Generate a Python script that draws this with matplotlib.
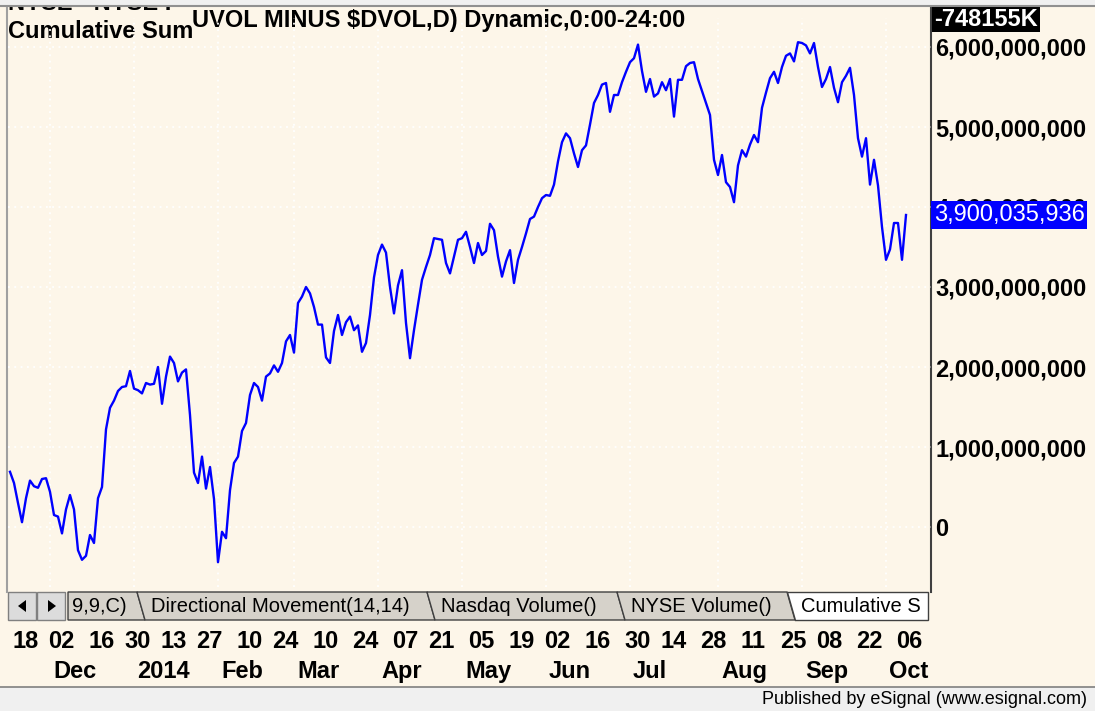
import numpy as np
import pandas as pd
import matplotlib
matplotlib.use("Agg")
import matplotlib.pyplot as plt
from matplotlib.patches import Rectangle, Polygon
from matplotlib.ticker import FuncFormatter

plt.rcParams['font.family'] = ['Liberation Sans', 'DejaVu Sans']

# cumulative sum of $UVOL - $DVOL (billions), one value per trading day
cum_sum_bn = [
    0.69, 0.55, 0.30, 0.06, 0.36, 0.58, 0.51, 0.49, 0.60, 0.61,
    0.44, 0.15, 0.13, -0.08, 0.22, 0.40, 0.22, -0.29, -0.41, -0.36,
    -0.10, -0.20, 0.36, 0.50, 1.22, 1.49, 1.58, 1.70, 1.75, 1.76,
    1.95, 1.73, 1.71, 1.67, 1.80, 1.78, 1.79, 2.00, 1.54, 1.88,
    2.13, 2.05, 1.82, 1.93, 1.97, 1.40, 0.68, 0.55, 0.88, 0.48,
    0.75, 0.35, -0.44, -0.06, -0.14, 0.46, 0.80, 0.88, 1.20, 1.30,
    1.65, 1.80, 1.75, 1.58, 1.88, 1.92, 2.02, 1.94, 2.05, 2.32,
    2.40, 2.18, 2.80, 2.88, 3.00, 2.92, 2.75, 2.53, 2.53, 2.12,
    2.05, 2.45, 2.65, 2.40, 2.56, 2.63, 2.46, 2.52, 2.19, 2.30,
    2.65, 3.12, 3.40, 3.53, 3.43, 3.00, 2.67, 3.02, 3.21, 2.55,
    2.11, 2.46, 2.78, 3.09, 3.25, 3.40, 3.61, 3.60, 3.59, 3.30,
    3.17, 3.38, 3.59, 3.61, 3.69, 3.50, 3.30, 3.55, 3.40, 3.45,
    3.79, 3.71, 3.38, 3.13, 3.32, 3.46, 3.05, 3.34, 3.50, 3.67,
    3.85, 3.88, 4.00, 4.11, 4.15, 4.14, 4.28, 4.57, 4.81, 4.92,
    4.86, 4.67, 4.50, 4.71, 4.77, 5.03, 5.30, 5.40, 5.53, 5.55,
    5.19, 5.40, 5.40, 5.56, 5.69, 5.81, 5.86, 6.03, 5.70, 5.44,
    5.60, 5.38, 5.42, 5.56, 5.46, 5.60, 5.13, 5.59, 5.59, 5.76,
    5.80, 5.81, 5.60, 5.45, 5.30, 5.15, 4.59, 4.40, 4.65, 4.31,
    4.25, 4.06, 4.52, 4.71, 4.63, 4.78, 4.90, 4.81, 5.24, 5.43,
    5.61, 5.69, 5.55, 5.75, 5.89, 5.92, 5.82, 6.06, 6.05, 6.02,
    5.92, 6.05, 5.75, 5.50, 5.60, 5.75, 5.49, 5.31, 5.56, 5.64,
    5.74, 5.40, 4.86, 4.63, 4.86, 4.28, 4.59, 4.27, 3.75, 3.34,
    3.47, 3.80, 3.80, 3.34, 3.900035936,
]

holidays = ["2013-11-28", "2013-12-25", "2014-01-01", "2014-01-20", "2014-02-17",
            "2014-04-18", "2014-05-26", "2014-07-04", "2014-09-01"]
y_ticks_bn = [0, 1, 2, 3, 4, 5, 6]
month_labels = ["Dec", "2014", "Feb", "Mar", "Apr", "May", "Jun", "Jul", "Aug", "Sep", "Oct"]
tab_names = ["9,9,C)", "Directional Movement(14,14)", "Nasdaq Volume()", "NYSE Volume()", "Cumulative S"]

days = pd.bdate_range("2013-11-15", "2014-10-08")
days = days[~days.isin(pd.to_datetime(holidays))]
tick_dates = pd.date_range("2013-11-18", "2014-10-06", freq="14D")
month_starts = [days[(days.year == d.year) & (days.month == d.month)][0]
                for d in pd.date_range("2013-12-01", "2014-10-01", freq="MS")]
tick_idx = np.searchsorted(days, tick_dates)
month_idx = np.searchsorted(days, month_starts)

cream = '#fdf6e9'
W, H = 1095, 711
fig = plt.figure(figsize=(W / 100, H / 100), dpi=100, facecolor=cream)

# decoration layer in pixel coordinates
deco = fig.add_axes([0, 0, 1, 1], zorder=0)
deco.set_xlim(0, W)
deco.set_ylim(H, 0)
deco.axis('off')

# bottom of a header row that is scrolled out of view
deco.text(8, 10, "NYSE - NYSE I", fontsize=17, fontweight='bold', va='baseline', zorder=1)
deco.add_patch(Rectangle((0, 0), W, 6, fc='#f0f0f0', ec='none', zorder=5))
deco.plot([0, W], [6, 6], color='#909090', lw=1.5, zorder=6)
deco.plot([7, 7], [6, 592], color='#a0a0a0', lw=1.5)
deco.plot([931, 931], [6, 592], color='#404040', lw=1.5)

deco.text(8, 31, "Cumulative Sum", fontsize=17, fontweight='bold', va='center')
deco.text(192, 20, "UVOL MINUS $DVOL,D) Dynamic,0:00-24:00", fontsize=17,
          fontweight='bold', va='center')
deco.text(934, 19, "-748155K", fontsize=17, fontweight='bold', color='white', va='center',
          bbox=dict(boxstyle='square,pad=0.08', fc='black', ec='none'))

# tab bar
for bx, tri in [(8, [(26, 600), (26, 612), (18, 606)]), (37, [(48, 600), (48, 612), (56, 606)])]:
    deco.add_patch(Rectangle((bx, 592), 28, 28, fc='#dcdcdc', ec='#808080', lw=1))
    deco.add_patch(Polygon(tri, closed=True, fc='black', ec='none'))
edges = [68, 137, 427, 617, 787, 928]
for k, name in enumerate(tab_names):
    a, b = edges[k], edges[k + 1]
    last = k == len(tab_names) - 1
    if last:
        pts = [(a, 592), (b, 592), (b, 620), (a + 8, 620)]
    elif k == 0:
        pts = [(a, 592), (b, 592), (b + 8, 620), (a, 620)]
    else:
        pts = [(a, 592), (b, 592), (b + 8, 620), (a + 8, 620)]
    deco.add_patch(Polygon(pts, closed=True, fc='white' if last else '#d6d2ca',
                           ec='#404040', lw=1, zorder=2 + k))
    deco.text(a + (4 if k == 0 else 14), 606, name, fontsize=14.5, va='center', zorder=10)

deco.add_patch(Rectangle((0, 687), W, H - 687, fc='#f0f0f0', ec='none'))
deco.plot([0, W], [687, 687], color='#808080', lw=1.2)
deco.text(1087, 699, "Published by eSignal (www.esignal.com)", fontsize=13,
          ha='right', va='center')

# main chart
ax = fig.add_axes([8 / W, 124 / H, 923 / W, 569 / H], zorder=1)
ax.set_facecolor('none')
for s in ax.spines.values():
    s.set_visible(False)

values = np.array(cum_sum_bn) * 1e9
ax.plot(np.arange(len(values)), values, color='#0000ff', lw=1.7, zorder=3)
ax.set_xlim(-0.5, 230.25)
ax.set_ylim(-0.75e9, 6.3625e9)

grid_style = dict(color='white', linestyle=(0, (1, 2.5)), linewidth=1.3, zorder=1)
for m in month_idx:
    ax.axvline(m, **grid_style)
for v in y_ticks_bn:
    ax.axhline(v * 1e9, **grid_style)

ax.yaxis.tick_right()
ax.set_yticks(np.array(y_ticks_bn) * 1e9)
ax.yaxis.set_major_formatter(FuncFormatter(lambda v, p: f"{v:,.0f}"))
ax.tick_params(axis='y', length=0, pad=3, labelsize=17)
for lbl in ax.get_yticklabels():
    lbl.set_fontweight('bold')

ax.set_xticks(tick_idx - 0.5, [d.strftime("%d") for d in tick_dates])
ax.set_xticks(month_idx + 0.75, month_labels, minor=True)
ax.tick_params(axis='x', which='major', length=0, pad=31, labelsize=17)
ax.tick_params(axis='x', which='minor', length=0, pad=52.5, labelsize=17)
for lbl in ax.get_xticklabels() + ax.get_xticklabels(minor=True):
    lbl.set_fontweight('bold')
    lbl.set_ha('left')

last_val = values[-1]
ax.annotate(f"{last_val:,.0f}", xy=(1, last_val), xycoords=('axes fraction', 'data'),
            xytext=(2, 0), textcoords='offset points', ha='left', va='center',
            color='white', fontsize=17, zorder=10, annotation_clip=False,
            bbox=dict(boxstyle='square,pad=0.12', fc='#0000ff', ec='none'))

fig.savefig("out.png", dpi=100, facecolor=cream)
